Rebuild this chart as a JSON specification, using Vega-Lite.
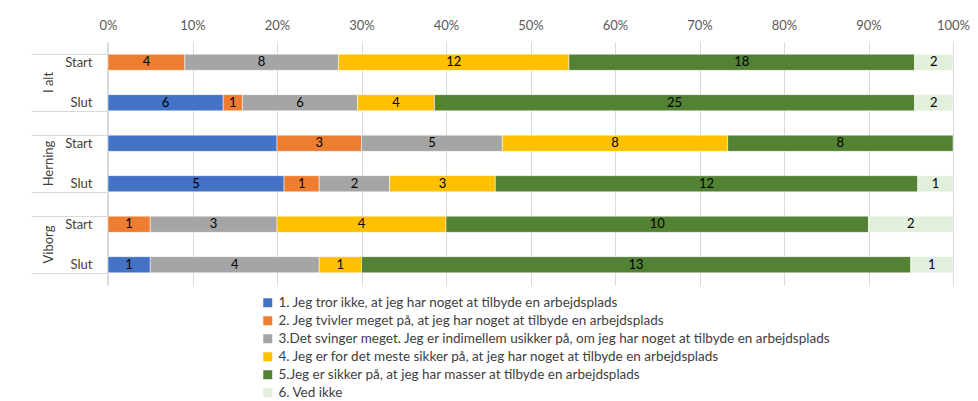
{
  "$schema": "https://vega.github.io/schema/vega-lite/v6.json",
  "padding": {"left": 30, "top": 19, "right": 13, "bottom": 0},
  "background": "white",
  "data": {"values": [
    {"group": "I alt", "period": "Start", "k": 2, "cat": "2. Jeg tvivler meget på, at jeg har noget at tilbyde en arbejdsplads", "n": 4},
    {"group": "I alt", "period": "Start", "k": 3, "cat": "3.Det svinger meget. Jeg er indimellem usikker på, om jeg har noget at tilbyde en arbejdsplads", "n": 8},
    {"group": "I alt", "period": "Start", "k": 4, "cat": "4. Jeg er for det meste sikker på, at jeg har noget at tilbyde en arbejdsplads", "n": 12},
    {"group": "I alt", "period": "Start", "k": 5, "cat": "5.Jeg er sikker på, at jeg har masser at tilbyde en arbejdsplads", "n": 18},
    {"group": "I alt", "period": "Start", "k": 6, "cat": "6. Ved ikke", "n": 2},
    {"group": "I alt", "period": "Slut", "k": 1, "cat": "1. Jeg tror ikke, at jeg har noget at tilbyde en arbejdsplads", "n": 6},
    {"group": "I alt", "period": "Slut", "k": 2, "cat": "2. Jeg tvivler meget på, at jeg har noget at tilbyde en arbejdsplads", "n": 1},
    {"group": "I alt", "period": "Slut", "k": 3, "cat": "3.Det svinger meget. Jeg er indimellem usikker på, om jeg har noget at tilbyde en arbejdsplads", "n": 6},
    {"group": "I alt", "period": "Slut", "k": 4, "cat": "4. Jeg er for det meste sikker på, at jeg har noget at tilbyde en arbejdsplads", "n": 4},
    {"group": "I alt", "period": "Slut", "k": 5, "cat": "5.Jeg er sikker på, at jeg har masser at tilbyde en arbejdsplads", "n": 25},
    {"group": "I alt", "period": "Slut", "k": 6, "cat": "6. Ved ikke", "n": 2},
    {"group": "Herning", "period": "Start", "k": 1, "cat": "1. Jeg tror ikke, at jeg har noget at tilbyde en arbejdsplads", "n": 6},
    {"group": "Herning", "period": "Start", "k": 2, "cat": "2. Jeg tvivler meget på, at jeg har noget at tilbyde en arbejdsplads", "n": 3},
    {"group": "Herning", "period": "Start", "k": 3, "cat": "3.Det svinger meget. Jeg er indimellem usikker på, om jeg har noget at tilbyde en arbejdsplads", "n": 5},
    {"group": "Herning", "period": "Start", "k": 4, "cat": "4. Jeg er for det meste sikker på, at jeg har noget at tilbyde en arbejdsplads", "n": 8},
    {"group": "Herning", "period": "Start", "k": 5, "cat": "5.Jeg er sikker på, at jeg har masser at tilbyde en arbejdsplads", "n": 8},
    {"group": "Herning", "period": "Slut", "k": 1, "cat": "1. Jeg tror ikke, at jeg har noget at tilbyde en arbejdsplads", "n": 5},
    {"group": "Herning", "period": "Slut", "k": 2, "cat": "2. Jeg tvivler meget på, at jeg har noget at tilbyde en arbejdsplads", "n": 1},
    {"group": "Herning", "period": "Slut", "k": 3, "cat": "3.Det svinger meget. Jeg er indimellem usikker på, om jeg har noget at tilbyde en arbejdsplads", "n": 2},
    {"group": "Herning", "period": "Slut", "k": 4, "cat": "4. Jeg er for det meste sikker på, at jeg har noget at tilbyde en arbejdsplads", "n": 3},
    {"group": "Herning", "period": "Slut", "k": 5, "cat": "5.Jeg er sikker på, at jeg har masser at tilbyde en arbejdsplads", "n": 12},
    {"group": "Herning", "period": "Slut", "k": 6, "cat": "6. Ved ikke", "n": 1},
    {"group": "Viborg", "period": "Start", "k": 2, "cat": "2. Jeg tvivler meget på, at jeg har noget at tilbyde en arbejdsplads", "n": 1},
    {"group": "Viborg", "period": "Start", "k": 3, "cat": "3.Det svinger meget. Jeg er indimellem usikker på, om jeg har noget at tilbyde en arbejdsplads", "n": 3},
    {"group": "Viborg", "period": "Start", "k": 4, "cat": "4. Jeg er for det meste sikker på, at jeg har noget at tilbyde en arbejdsplads", "n": 4},
    {"group": "Viborg", "period": "Start", "k": 5, "cat": "5.Jeg er sikker på, at jeg har masser at tilbyde en arbejdsplads", "n": 10},
    {"group": "Viborg", "period": "Start", "k": 6, "cat": "6. Ved ikke", "n": 2},
    {"group": "Viborg", "period": "Slut", "k": 1, "cat": "1. Jeg tror ikke, at jeg har noget at tilbyde en arbejdsplads", "n": 1},
    {"group": "Viborg", "period": "Slut", "k": 3, "cat": "3.Det svinger meget. Jeg er indimellem usikker på, om jeg har noget at tilbyde en arbejdsplads", "n": 4},
    {"group": "Viborg", "period": "Slut", "k": 4, "cat": "4. Jeg er for det meste sikker på, at jeg har noget at tilbyde en arbejdsplads", "n": 1},
    {"group": "Viborg", "period": "Slut", "k": 5, "cat": "5.Jeg er sikker på, at jeg har masser at tilbyde en arbejdsplads", "n": 13},
    {"group": "Viborg", "period": "Slut", "k": 6, "cat": "6. Ved ikke", "n": 1}
  ]},
  "facet": {
    "row": {
      "field": "group", "type": "nominal", "sort": ["I alt", "Herning", "Viborg"], "title": null,
      "header": {"labelAngle": -90, "labelOrient": "left", "labelAnchor": "middle", "labelFontSize": 13, "labelColor": "#404040", "labelFont": "Lato", "labelPadding": -31}
    }
  },
  "spacing": 0,
  "spec": {
    "width": 845,
    "height": 81,
    "encoding": {
      "y": {
        "field": "period", "type": "nominal", "sort": ["Start", "Slut"], "title": null,
        "scale": {"paddingInner": 0.6, "paddingOuter": 0.3},
        "axis": {
          "domain": true, "domainColor": "#d9d9d9", "ticks": true, "tickBand": "extent", "tickSize": 76, "tickColor": "#d9d9d9",
          "tickOpacity": {"condition": {"test": "datum.value === 'Start'", "value": 0}, "value": 1},
          "labelPadding": -61, "labelFontSize": 13, "labelColor": "#404040", "labelFont": "Lato", "grid": false
        }
      },
      "x": {
        "field": "n", "type": "quantitative", "stack": "normalize", "scale": {"domain": [0, 1]}, "title": null,
        "axis": {"orient": "top", "format": "%", "values": [0, 0.1, 0.2, 0.3, 0.4, 0.5, 0.6, 0.7, 0.8, 0.9, 1], "labelFlush": false, "domain": false, "ticks": false, "labelPadding": 10, "labelFontSize": 13, "labelColor": "#595959", "labelFont": "Lato", "grid": true, "gridColor": "#d9d9d9"}
      },
      "order": {"field": "k", "type": "quantitative"}
    },
    "layer": [
      {
        "mark": {"type": "bar", "stroke": "white", "strokeWidth": 0.5},
        "encoding": {
          "color": {
            "field": "cat", "type": "nominal",
            "scale": {
              "domain": ["1. Jeg tror ikke, at jeg har noget at tilbyde en arbejdsplads", "2. Jeg tvivler meget på, at jeg har noget at tilbyde en arbejdsplads", "3.Det svinger meget. Jeg er indimellem usikker på, om jeg har noget at tilbyde en arbejdsplads", "4. Jeg er for det meste sikker på, at jeg har noget at tilbyde en arbejdsplads", "5.Jeg er sikker på, at jeg har masser at tilbyde en arbejdsplads", "6. Ved ikke"],
              "range": ["#4472C4", "#ED7D31", "#A5A5A5", "#FFC000", "#548235", "#E2EFDA"]
            },
            "legend": {"orient": "none", "legendX": 153, "legendY": 254, "direction": "vertical", "title": null, "symbolType": "square", "symbolSize": 81, "symbolStrokeWidth": 0, "labelFontSize": 13.5, "labelLimit": 0, "rowPadding": 3, "labelColor": "#404040", "labelFont": "Lato"}
          }
        }
      },
      {
        "mark": {"type": "text", "fontSize": 13, "color": "#000000", "font": "Lato"},
        "encoding": {
          "x": {"field": "n", "type": "quantitative", "stack": "normalize", "bandPosition": 0.5},
          "detail": {"field": "k", "type": "nominal"},
          "text": {"condition": {"test": "datum.group === 'Herning' && datum.period === 'Start' && datum.k === 1", "value": ""}, "field": "n", "type": "quantitative"}
        }
      }
    ]
  },
  "config": {"view": {"stroke": null}}
}
